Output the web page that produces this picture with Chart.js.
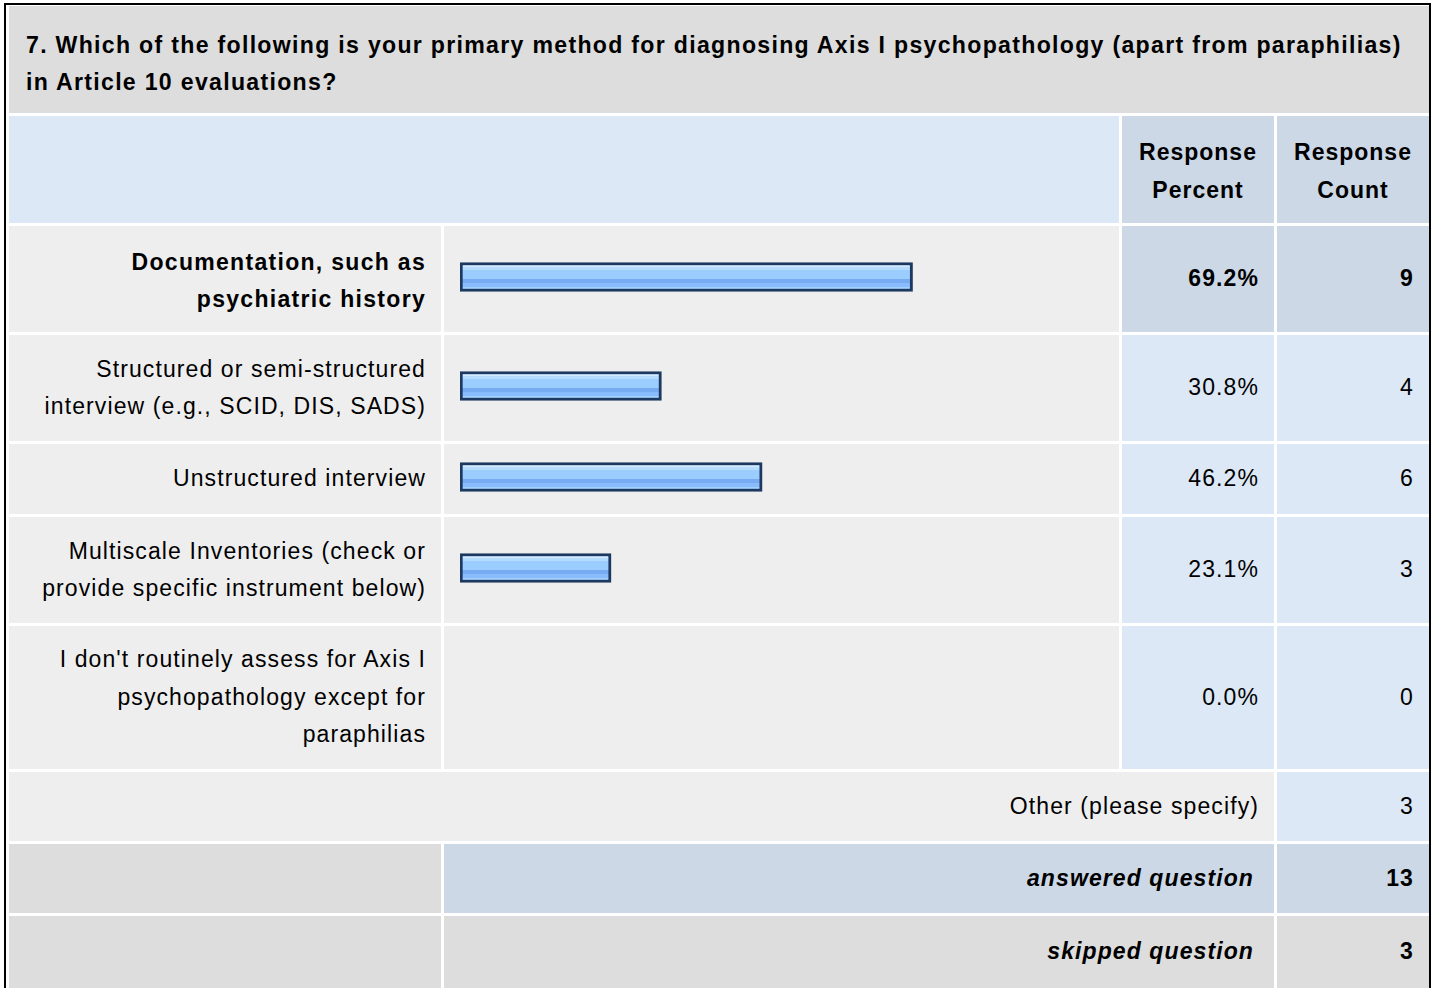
<!DOCTYPE html>
<html>
<head>
<meta charset="utf-8">
<script src="https://cdn.jsdelivr.net/npm/chart.js@4.4.1/dist/chart.umd.min.js"></script>
<style>
  html, body { margin: 0; padding: 0; background: #fff; }
  body { width: 1432px; height: 988px; overflow: hidden; position: relative;
         font-family: "Liberation Sans", Arial, sans-serif; color: #000; }
  .frame { position: absolute; left: 4px; top: 3px; width: 1423px; height: 1000px;
           border: 2px solid #000; border-bottom: none; }
  .grid { position: absolute; left: 9px; top: 6px; display: grid;
          grid-template-columns: 432px 675px 152px 152px;
          column-gap: 3px; row-gap: 3px; }
  .cell { font-size: 23px; line-height: 37.5px; letter-spacing: 1.1px;
          display: flex; align-items: center; box-sizing: border-box; }
  .title { grid-column: 1 / 5; background: #dddddd; font-weight: bold;
           padding: 9px 0 0 17px; letter-spacing: 1.3px; white-space: nowrap; }
  .title > div { transform: scaleX(1.004); transform-origin: left; }
  .hdr { background: #dce8f6; }
  .hdr-col { background: #ccd8e6; font-weight: bold; justify-content: center; text-align: center;
             padding-top: 4px; letter-spacing: 1.0px; }
  .lbl { background: #eeeeee; justify-content: flex-end; text-align: right; padding: 0 15px 0 20px; }
  .bar { background: #eeeeee; position: relative; }
  .bar .wrap { position: absolute; left: 16px; top: 0; width: 654px; height: calc(100% - 4px); }
  .num { background: #dce8f6; justify-content: flex-end; padding-right: 15px; }
  .hl { background: #ccd8e6; font-weight: bold; }
  .bold { font-weight: bold; }
  .lbl.bold { padding-top: 4px; letter-spacing: 1.3px; }
  .gray { background: #dddddd; }
  .blue2 { background: #ccd8e6; }
  .sum { font-weight: bold; font-style: italic; justify-content: flex-end; padding-right: 20px; }
</style>
</head>
<body>
<div class="frame"></div>
<div class="grid" id="grid"></div>
<script>
// ---- data ----
const questionTitle = [
  "7. Which of the following is your primary method for diagnosing Axis I psychopathology (apart from paraphilias)",
  "in Article 10 evaluations?"
];
const headerPercent = ["Response", "Percent"];
const headerCount = ["Response", "Count"];
const answerLabels = [
  ["Documentation, such as", "psychiatric history"],
  ["Structured or semi-structured", "interview (e.g., SCID, DIS, SADS)"],
  ["Unstructured interview"],
  ["Multiscale Inventories (check or", "provide specific instrument below)"],
  ["I don't routinely assess for Axis I", "psychopathology except for", "paraphilias"]
];
const responsePercent = [69.2, 30.8, 46.2, 23.1, 0.0];
const responseCount = [9, 4, 6, 3, 0];
const otherLabel = "Other (please specify)";
const otherCount = 3;
const answeredLabel = "answered question";
const answeredCount = 13;
const skippedLabel = "skipped question";
const skippedCount = 3;
const topAnswer = 0; // highlighted row

// ---- layout ----
const rowHeights = [107, 107, 106, 106, 70, 106, 143, 69, 69, 72];
const grid = document.getElementById("grid");
grid.style.gridTemplateRows = rowHeights.map(h => h + "px").join(" ");

function cell(cls, html, span){
  const d = document.createElement("div");
  d.className = "cell " + cls;
  if(span) d.style.gridColumn = span;
  if(html !== undefined) d.innerHTML = "<div>" + html + "</div>";
  grid.appendChild(d);
  return d;
}

cell("title", questionTitle.join("<br>"));
cell("hdr", "", "1 / 3");
cell("hdr-col", headerPercent.join("<br>"));
cell("hdr-col", headerCount.join("<br>"));

const barCells = [];
answerLabels.forEach((lines, i) => {
  const top = i === topAnswer;
  cell("lbl" + (top ? " bold" : ""), lines.join("<br>"));
  const b = cell("bar");
  const w = document.createElement("div");
  w.className = "wrap";
  const cv = document.createElement("canvas");
  w.appendChild(cv);
  b.appendChild(w);
  barCells.push(cv);
  cell("num" + (top ? " hl" : ""), responsePercent[i].toFixed(1) + "%");
  cell("num" + (top ? " hl" : ""), String(responseCount[i]));
});

cell("lbl", otherLabel, "1 / 4");
cell("num", String(otherCount));
cell("gray", "");
cell("blue2 sum", answeredLabel, "2 / 4");
cell("blue2 num bold", String(answeredCount));
cell("gray", "");
cell("gray sum", skippedLabel, "2 / 4");
cell("gray num bold", String(skippedCount));

// ---- bars ----
const BAR_H = 29;
function barFill(ctx){
  if(!(ctx.raw > 0)) return "rgba(0,0,0,0)";
  const chart = ctx.chart;
  const area = chart.chartArea;
  if(!area) return "#99ccff";
  const mid = (area.top + area.bottom) / 2;
  const g = chart.ctx.createLinearGradient(0, mid - BAR_H / 2, 0, mid + BAR_H / 2);
  const stops = [
    [0.00, "#d2eaff"], [0.14, "#d2eaff"],
    [0.14, "#b5dbff"], [0.26, "#b5dbff"],
    [0.26, "#9ccdff"], [0.56, "#9ccdff"],
    [0.56, "#78acf2"], [0.72, "#78acf2"],
    [0.72, "#88bcfc"], [0.84, "#88bcfc"],
    [0.84, "#a2d0ff"], [1.00, "#a2d0ff"]
  ];
  stops.forEach(s => g.addColorStop(s[0], s[1]));
  return g;
}

barCells.forEach((cv, i) => {
  new Chart(cv, {
    type: "bar",
    data: {
      labels: [answerLabels[i].join(" ")],
      datasets: [{
        data: [responsePercent[i]],
        backgroundColor: barFill,
        borderColor: "#1c3961",
        borderWidth: (c) => (c.raw > 0 ? 3 : 0),
        borderSkipped: false,
        barThickness: BAR_H
      }]
    },
    options: {
      indexAxis: "y",
      responsive: true,
      maintainAspectRatio: false,
      animation: false,
      layout: { padding: 0 },
      plugins: { legend: { display: false }, tooltip: { enabled: false } },
      scales: {
        x: { min: 0, max: 100, display: false },
        y: { display: false }
      }
    }
  });
});
</script>
</body>
</html>
